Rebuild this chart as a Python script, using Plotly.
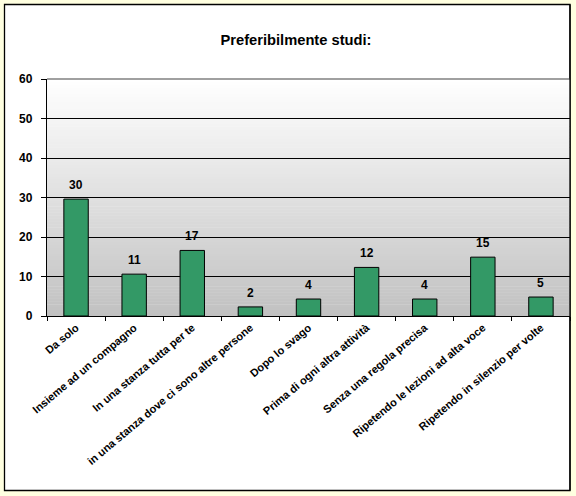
import plotly.graph_objects as go

categories = [
    "Da solo",
    "Insieme ad un compagno",
    "In una stanza tutta per te",
    "in una stanza dove ci sono altre persone",
    "Dopo lo svago",
    "Prima di ogni altra attività",
    "Senza una regola precisa",
    "Ripetendo le lezioni ad alta voce",
    "Ripetendo in silenzio per volte",
]
values = [29.6, 10.6, 16.6, 2.3, 4.3, 12.3, 4.3, 14.9, 4.8]
y_ticks = [0, 10, 20, 30, 40, 50, 60]
title_text = "Preferibilmente studi:"

W, H = 576, 496
L, R, T, B = 47, 6, 79, 180
pw, ph = W - L - R, H - T - B

def px_x(p):
    return (p - L) / pw

def px_y(p):
    return (H - B - p) / ph

FONT = "Arial, 'Liberation Sans', sans-serif"

fig = go.Figure()
fig.add_trace(go.Bar(
    x=categories,
    y=values,
    width=0.42,
    marker=dict(color="#339966", line=dict(color="black", width=1)),
    cliponaxis=False,
))

# value labels above bars
annotations = [
    dict(x=c, y=v, xref="x", yref="y", text="<b>%d</b>" % round(v),
         showarrow=False, yanchor="bottom", yshift=5,
         font=dict(family=FONT, size=12, color="black"))
    for c, v in zip(categories, values)
]

shapes = []
# chart area white background with black border
shapes.append(dict(type="rect", xref="paper", yref="paper",
                   x0=px_x(4.5), x1=px_x(570), y0=px_y(490.5), y1=px_y(4.5),
                   fillcolor="white", line=dict(color="black", width=1.3),
                   layer="below"))
# gradient plot background (white -> gray), approximated with bands
n = 80
top = (255, 255, 255)
bot = (193, 193, 193)
for i in range(n):
    f = (i + 0.5) / n
    c = tuple(round(top[k] + (bot[k] - top[k]) * f) for k in range(3))
    shapes.append(dict(type="rect", xref="x domain", yref="y domain",
                       x0=0, x1=1, y0=1 - (i + 1) / n - 0.002, y1=1 - i / n,
                       fillcolor="rgb(%d,%d,%d)" % c, line=dict(width=0),
                       layer="below"))
# gray top border of plot area
shapes.append(dict(type="line", xref="x domain", yref="y domain",
                   x0=0, x1=1, y0=1, y1=1,
                   line=dict(color="#808080", width=1.3), layer="above"))
# right border of the chart
shapes.append(dict(type="line", xref="paper", yref="paper",
                   x0=px_x(570), x1=px_x(570), y0=px_y(490.5), y1=px_y(4.5),
                   line=dict(color="black", width=1.3), layer="above"))

fig.update_layout(
    width=W, height=H,
    margin=dict(l=L, r=R, t=T, b=B, pad=0),
    paper_bgcolor="#FFFFE0",
    plot_bgcolor="rgba(0,0,0,0)",
    showlegend=False,
    shapes=shapes,
    annotations=annotations,
    title=dict(text="<b>" + title_text + "</b>", x=px_x(296), xanchor="center",
               xref="paper", y=1 - 40 / H, yref="container", yanchor="middle",
               font=dict(family=FONT, size=14.7, color="black")),
    xaxis=dict(
        type="category",
        range=[-0.5, len(categories) - 0.5],
        showline=True, linecolor="black", linewidth=1.3,
        ticks="outside", tickson="boundaries", ticklen=4, tickcolor="black",
        tickangle=-40,
        tickfont=dict(family=FONT, size=11, color="black", weight="bold"),
        showgrid=False,
        fixedrange=True,
    ),
    yaxis=dict(
        range=[0, 60],
        tickvals=y_ticks,
        showline=True, linecolor="black", linewidth=1.3,
        ticks="outside", ticklen=5, tickcolor="black",
        ticklabelstandoff=6,
        tickfont=dict(family=FONT, size=12, color="black", weight="bold"),
        showgrid=True, gridcolor="black", gridwidth=1.3,
        zeroline=False,
        fixedrange=True,
    ),
)

fig.write_html(
    "out.html",
    config={"displayModeBar": False},
    post_script="document.body.style.margin='0';document.body.style.padding='0';"
                "document.body.style.overflow='hidden';"
                "document.body.style.background='#FFFFE0';",
)
